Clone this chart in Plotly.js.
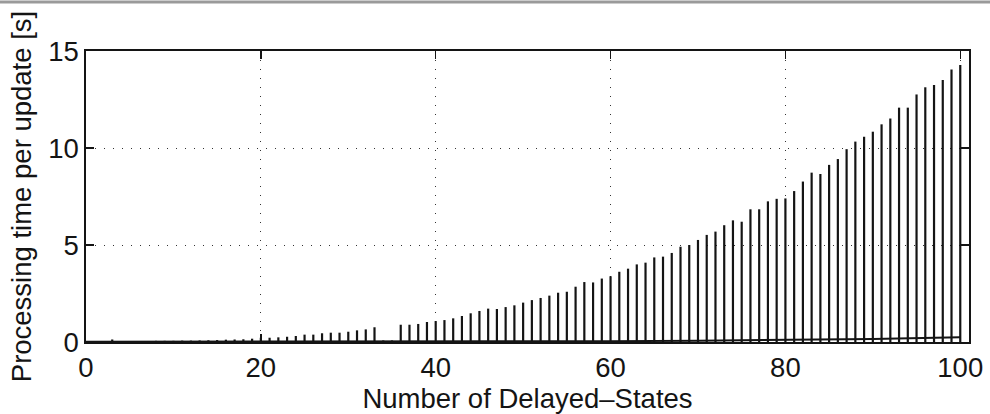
<!DOCTYPE html>
<html>
<head>
<meta charset="utf-8">
<script src="https://cdn.plot.ly/plotly-3.0.1.min.js"></script>
<style>html,body{margin:0;padding:0;background:#fff;}#chart{width:990px;height:414px;}</style>
</head>
<body>
<div id="chart"></div>
<script>
// Number of delayed states (x categories)
const delayedStates = Array.from({length: 100}, (_, i) => i + 1);

// Peak processing time per update [s] for each number of delayed states
const procTime = [
  0.04, 0.05, 0.13, 0.05, 0.05, 0.05, 0.05, 0.06, 0.06, 0.06,
  0.07, 0.07, 0.08, 0.09, 0.10, 0.12, 0.13, 0.14, 0.17, 0.22,
  0.22, 0.24, 0.27, 0.31, 0.38, 0.38, 0.45, 0.48, 0.48, 0.53,
  0.60, 0.65, 0.76, 0.08, 0.08, 0.89, 0.89, 0.93, 1.03, 1.08,
  1.13, 1.22, 1.34, 1.48, 1.60, 1.72, 1.70, 1.80, 1.89, 2.03,
  2.16, 2.27, 2.39, 2.54, 2.59, 2.85, 3.09, 3.07, 3.27, 3.39,
  3.62, 3.78, 4.00, 4.09, 4.36, 4.40, 4.59, 4.91, 5.00, 5.26,
  5.52, 5.69, 6.02, 6.27, 6.20, 6.84, 6.84, 7.25, 7.38, 7.40,
  7.78, 8.27, 8.73, 8.66, 9.13, 9.43, 9.94, 10.33, 10.58, 10.84,
  11.22, 11.52, 12.08, 12.08, 12.76, 13.13, 13.25, 13.50, 14.05, 14.28
];

// Low baseline processing time (slow-rising curve near zero)
const baseStates = [0, 10, 20, 30, 40, 50, 60, 70, 80, 90, 100];
const baseTime   = [0.01, 0.01, 0.02, 0.02, 0.03, 0.03, 0.04, 0.07, 0.11, 0.16, 0.24];

const xTicks = [0, 20, 40, 60, 80, 100];
const yTicks = [0, 5, 10, 15];

// Build stem segments from the data arrays
const stemX = [], stemY = [];
delayedStates.forEach((n, i) => {
  stemX.push(n, n, null);
  stemY.push(0, procTime[i], null);
});

const ink = '#141414';
const traces = [
  {x: stemX, y: stemY, type: 'scatter', mode: 'lines',
   line: {color: ink, width: 2.2}, hoverinfo: 'skip', connectgaps: false},
  {x: baseStates, y: baseTime, type: 'scatter', mode: 'lines',
   line: {color: ink, width: 2}, hoverinfo: 'skip'}
];

const fontFam = '"Liberation Sans", Arial, Helvetica, sans-serif';
const axisCommon = {
  ticks: 'inside', ticklen: 8, tickwidth: 1.5, tickcolor: ink,
  mirror: 'ticks', showline: true, linecolor: ink, linewidth: 1.6,
  showgrid: true, gridcolor: '#333', gridwidth: 1, griddash: '1.2px,7.8px',
  zeroline: false, tickfont: {family: fontFam, size: 27.5, color: ink},
  automargin: false
};

const layout = {
  width: 990, height: 414,
  margin: {l: 86, r: 21, t: 51, b: 72},
  paper_bgcolor: '#ffffff', plot_bgcolor: '#ffffff',
  showlegend: false,
  font: {family: fontFam, size: 27.5, color: ink},
  xaxis: Object.assign({}, axisCommon, {
    range: [0, 101], tickmode: 'array', tickvals: xTicks,
    title: {text: 'Number of Delayed\u2013States', font: {family: fontFam, size: 27.5, color: ink}, standoff: 0}
  }),
  yaxis: Object.assign({}, axisCommon, {
    range: [0, 15], tickmode: 'array', tickvals: yTicks,
    title: {text: 'Processing time per update [s]', font: {family: fontFam, size: 27.5, color: ink}, standoff: 8}
  }),
  shapes: [
    {type: 'line', xref: 'paper', yref: 'paper', x0: -0.1, x1: 1.1, y0: 1.168, y1: 1.168,
     line: {color: '#9a9a9a', width: 3}}
  ]
};

Plotly.newPlot('chart', traces, layout, {staticPlot: true, displayModeBar: false});
</script>
</body>
</html>
